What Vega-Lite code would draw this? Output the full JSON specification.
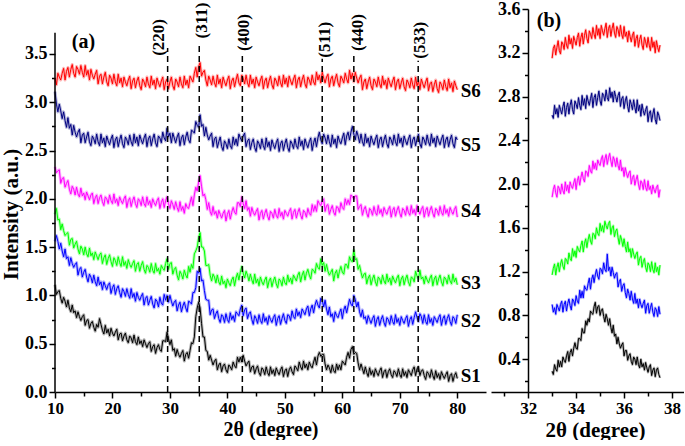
{
"$schema": "https://vega.github.io/schema/vega-lite/v6.json",
"padding": {"left": 0, "top": 0, "right": 0, "bottom": 0},
"spacing": 5,
"bounds": "flush",
"config": {
  "view": {"stroke": null},
  "font": "Liberation Serif",
  "axis": {"domainColor": "black", "domainWidth": 1.5, "tickColor": "black", "tickWidth": 1.5, "labelColor": "black", "titleColor": "black", "labelFont": "Liberation Serif", "titleFont": "Liberation Serif", "labelFontWeight": "bold", "titleFontWeight": "bold", "grid": false, "labelFlush": false, "labelOverlap": false, "labelBound": false}
},
"datasets": {
"xrd": [
{"x":10,"S1":1.11,"S2":1.56,"S3":1.84,"S4":2.33,"S5":3.11,"S6":3.25},
{"x":10.25,"S1":1.01,"S2":1.62,"S3":1.90,"S4":2.27,"S5":2.98,"S6":3.18},
{"x":10.5,"S1":1.04,"S2":1.56,"S3":1.78,"S4":2.29,"S5":2.90,"S6":3.30},
{"x":10.75,"S1":1.05,"S2":1.48,"S3":1.79,"S4":2.30,"S5":2.98,"S6":3.26},
{"x":11,"S1":0.97,"S2":1.54,"S3":1.68,"S4":2.16,"S5":2.91,"S6":3.23},
{"x":11.25,"S1":0.92,"S2":1.46,"S3":1.74,"S4":2.21,"S5":2.83,"S6":3.30},
{"x":11.5,"S1":0.98,"S2":1.40,"S3":1.67,"S4":2.22,"S5":2.90,"S6":3.35},
{"x":11.75,"S1":0.94,"S2":1.48,"S3":1.62,"S4":2.12,"S5":2.81,"S6":3.23},
{"x":12,"S1":0.88,"S2":1.38,"S3":1.64,"S4":2.16,"S5":2.74,"S6":3.32},
{"x":12.25,"S1":0.95,"S2":1.40,"S3":1.65,"S4":2.19,"S5":2.84,"S6":3.36},
{"x":12.5,"S1":0.87,"S2":1.31,"S3":1.52,"S4":2.10,"S5":2.73,"S6":3.26},
{"x":12.75,"S1":0.83,"S2":1.39,"S3":1.58,"S4":2.05,"S5":2.77,"S6":3.34},
{"x":13,"S1":0.90,"S2":1.33,"S3":1.59,"S4":2.13,"S5":2.66,"S6":3.39},
{"x":13.25,"S1":0.82,"S2":1.29,"S3":1.49,"S4":2.10,"S5":2.76,"S6":3.30},
{"x":13.5,"S1":0.84,"S2":1.32,"S3":1.53,"S4":2.04,"S5":2.69,"S6":3.26},
{"x":13.75,"S1":0.77,"S2":1.34,"S3":1.56,"S4":2.12,"S5":2.64,"S6":3.37},
{"x":14,"S1":0.83,"S2":1.21,"S3":1.48,"S4":2.05,"S5":2.69,"S6":3.34},
{"x":14.25,"S1":0.78,"S2":1.27,"S3":1.43,"S4":2.02,"S5":2.72,"S6":3.29},
{"x":14.5,"S1":0.74,"S2":1.29,"S3":1.51,"S4":2.11,"S5":2.58,"S6":3.38},
{"x":14.75,"S1":0.78,"S2":1.19,"S3":1.48,"S4":2.03,"S5":2.66,"S6":3.31},
{"x":15,"S1":0.80,"S2":1.24,"S3":1.42,"S4":2.06,"S5":2.68,"S6":3.26},
{"x":15.25,"S1":0.69,"S2":1.27,"S3":1.50,"S4":1.99,"S5":2.58,"S6":3.38},
{"x":15.5,"S1":0.74,"S2":1.19,"S3":1.43,"S4":2.07,"S5":2.64,"S6":3.28},
{"x":15.75,"S1":0.75,"S2":1.14,"S3":1.40,"S4":2.03,"S5":2.69,"S6":3.33},
{"x":16,"S1":0.66,"S2":1.22,"S3":1.49,"S4":1.99,"S5":2.59,"S6":3.23},
{"x":16.25,"S1":0.71,"S2":1.19,"S3":1.41,"S4":2.04,"S5":2.55,"S6":3.34},
{"x":16.5,"S1":0.73,"S2":1.13,"S3":1.44,"S4":2.06,"S5":2.65,"S6":3.28},
{"x":16.75,"S1":0.67,"S2":1.21,"S3":1.37,"S4":1.95,"S5":2.62,"S6":3.24},
{"x":17,"S1":0.63,"S2":1.14,"S3":1.45,"S4":2.01,"S5":2.57,"S6":3.29},
{"x":17.25,"S1":0.70,"S2":1.10,"S3":1.41,"S4":2.04,"S5":2.67,"S6":3.33},
{"x":17.5,"S1":0.67,"S2":1.19,"S3":1.37,"S4":1.95,"S5":2.59,"S6":3.19},
{"x":17.75,"S1":0.76,"S2":1.11,"S3":1.42,"S4":2.01,"S5":2.55,"S6":3.27},
{"x":18,"S1":0.70,"S2":1.14,"S3":1.44,"S4":2.04,"S5":2.67,"S6":3.29},
{"x":18.25,"S1":0.64,"S2":1.06,"S3":1.33,"S4":1.97,"S5":2.58,"S6":3.19},
{"x":18.5,"S1":0.60,"S2":1.14,"S3":1.39,"S4":1.93,"S5":2.63,"S6":3.26},
{"x":18.75,"S1":0.69,"S2":1.10,"S3":1.42,"S4":2.02,"S5":2.54,"S6":3.31},
{"x":19,"S1":0.61,"S2":1.06,"S3":1.32,"S4":2.00,"S5":2.65,"S6":3.21},
{"x":19.25,"S1":0.65,"S2":1.11,"S3":1.38,"S4":1.95,"S5":2.60,"S6":3.17},
{"x":19.5,"S1":0.58,"S2":1.13,"S3":1.42,"S4":2.04,"S5":2.56,"S6":3.28},
{"x":19.75,"S1":0.66,"S2":1.02,"S3":1.35,"S4":1.98,"S5":2.62,"S6":3.25},
{"x":20,"S1":0.61,"S2":1.08,"S3":1.30,"S4":1.95,"S5":2.66,"S6":3.19},
{"x":20.25,"S1":0.58,"S2":1.11,"S3":1.39,"S4":2.05,"S5":2.53,"S6":3.29},
{"x":20.5,"S1":0.62,"S2":1.01,"S3":1.36,"S4":1.96,"S5":2.61,"S6":3.21},
{"x":20.75,"S1":0.65,"S2":1.07,"S3":1.31,"S4":2.00,"S5":2.64,"S6":3.17},
{"x":21,"S1":0.54,"S2":1.10,"S3":1.40,"S4":1.93,"S5":2.54,"S6":3.29},
{"x":21.25,"S1":0.60,"S2":1.03,"S3":1.34,"S4":2.02,"S5":2.61,"S6":3.20},
{"x":21.5,"S1":0.61,"S2":0.98,"S3":1.30,"S4":1.98,"S5":2.66,"S6":3.25},
{"x":21.75,"S1":0.53,"S2":1.07,"S3":1.40,"S4":1.95,"S5":2.57,"S6":3.16},
{"x":22,"S1":0.58,"S2":1.04,"S3":1.31,"S4":2.00,"S5":2.53,"S6":3.26},
{"x":22.25,"S1":0.61,"S2":0.99,"S3":1.35,"S4":2.03,"S5":2.64,"S6":3.21},
{"x":22.5,"S1":0.54,"S2":1.07,"S3":1.28,"S4":1.91,"S5":2.61,"S6":3.17},
{"x":22.75,"S1":0.51,"S2":1.01,"S3":1.37,"S4":1.98,"S5":2.56,"S6":3.23},
{"x":23,"S1":0.58,"S2":0.97,"S3":1.32,"S4":2.01,"S5":2.66,"S6":3.27},
{"x":23.25,"S1":0.56,"S2":1.07,"S3":1.29,"S4":1.92,"S5":2.59,"S6":3.14},
{"x":23.5,"S1":0.51,"S2":0.98,"S3":1.33,"S4":1.98,"S5":2.55,"S6":3.22},
{"x":23.75,"S1":0.59,"S2":1.02,"S3":1.36,"S4":2.02,"S5":2.67,"S6":3.25},
{"x":24,"S1":0.52,"S2":0.94,"S3":1.25,"S4":1.95,"S5":2.58,"S6":3.15},
{"x":24.25,"S1":0.49,"S2":1.03,"S3":1.32,"S4":1.91,"S5":2.64,"S6":3.22},
{"x":24.5,"S1":0.57,"S2":0.98,"S3":1.34,"S4":2.00,"S5":2.55,"S6":3.26},
{"x":24.75,"S1":0.50,"S2":0.95,"S3":1.25,"S4":1.98,"S5":2.66,"S6":3.17},
{"x":25,"S1":0.53,"S2":0.99,"S3":1.31,"S4":1.93,"S5":2.61,"S6":3.13},
{"x":25.25,"S1":0.47,"S2":1.02,"S3":1.35,"S4":2.02,"S5":2.57,"S6":3.24},
{"x":25.5,"S1":0.54,"S2":0.90,"S3":1.27,"S4":1.95,"S5":2.63,"S6":3.21},
{"x":25.75,"S1":0.50,"S2":0.97,"S3":1.23,"S4":1.92,"S5":2.67,"S6":3.16},
{"x":26,"S1":0.46,"S2":0.99,"S3":1.31,"S4":2.02,"S5":2.54,"S6":3.26},
{"x":26.25,"S1":0.50,"S2":0.90,"S3":1.29,"S4":1.94,"S5":2.62,"S6":3.19},
{"x":26.5,"S1":0.52,"S2":0.95,"S3":1.24,"S4":1.98,"S5":2.65,"S6":3.15},
{"x":26.75,"S1":0.42,"S2":0.99,"S3":1.33,"S4":1.91,"S5":2.55,"S6":3.27},
{"x":27,"S1":0.47,"S2":0.91,"S3":1.26,"S4":2.00,"S5":2.62,"S6":3.18},
{"x":27.25,"S1":0.49,"S2":0.87,"S3":1.23,"S4":1.96,"S5":2.67,"S6":3.23},
{"x":27.5,"S1":0.40,"S2":0.96,"S3":1.33,"S4":1.93,"S5":2.58,"S6":3.14},
{"x":27.75,"S1":0.46,"S2":0.94,"S3":1.25,"S4":1.98,"S5":2.54,"S6":3.25},
{"x":28,"S1":0.49,"S2":0.88,"S3":1.28,"S4":2.01,"S5":2.65,"S6":3.20},
{"x":28.25,"S1":0.44,"S2":0.98,"S3":1.22,"S4":1.90,"S5":2.63,"S6":3.16},
{"x":28.5,"S1":0.42,"S2":0.92,"S3":1.31,"S4":1.96,"S5":2.58,"S6":3.22},
{"x":28.75,"S1":0.53,"S2":0.90,"S3":1.28,"S4":2.00,"S5":2.69,"S6":3.26},
{"x":29,"S1":0.53,"S2":1.01,"S3":1.26,"S4":1.91,"S5":2.63,"S6":3.13},
{"x":29.25,"S1":0.52,"S2":0.95,"S3":1.33,"S4":1.98,"S5":2.60,"S6":3.21},
{"x":29.5,"S1":0.62,"S2":1.00,"S3":1.38,"S4":2.02,"S5":2.73,"S6":3.24},
{"x":29.75,"S1":0.55,"S2":0.93,"S3":1.27,"S4":1.95,"S5":2.64,"S6":3.14},
{"x":30,"S1":0.49,"S2":1.00,"S3":1.33,"S4":1.90,"S5":2.68,"S6":3.21},
{"x":30.25,"S1":0.54,"S2":0.94,"S3":1.34,"S4":1.98,"S5":2.58,"S6":3.26},
{"x":30.5,"S1":0.43,"S2":0.89,"S3":1.22,"S4":1.94,"S5":2.68,"S6":3.17},
{"x":30.75,"S1":0.45,"S2":0.93,"S3":1.27,"S4":1.89,"S5":2.63,"S6":3.13},
{"x":31,"S1":0.37,"S2":0.95,"S3":1.29,"S4":1.97,"S5":2.58,"S6":3.24},
{"x":31.25,"S1":0.44,"S2":0.84,"S3":1.21,"S4":1.91,"S5":2.64,"S6":3.21},
{"x":31.5,"S1":0.39,"S2":0.90,"S3":1.16,"S4":1.87,"S5":2.68,"S6":3.16},
{"x":31.75,"S1":0.36,"S2":0.93,"S3":1.25,"S4":1.97,"S5":2.55,"S6":3.26},
{"x":32,"S1":0.40,"S2":0.83,"S3":1.22,"S4":1.88,"S5":2.63,"S6":3.19},
{"x":32.25,"S1":0.43,"S2":0.89,"S3":1.17,"S4":1.92,"S5":2.66,"S6":3.15},
{"x":32.5,"S1":0.32,"S2":0.93,"S3":1.26,"S4":1.85,"S5":2.56,"S6":3.27},
{"x":32.75,"S1":0.39,"S2":0.87,"S3":1.21,"S4":1.95,"S5":2.64,"S6":3.18},
{"x":33,"S1":0.41,"S2":0.83,"S3":1.18,"S4":1.91,"S5":2.69,"S6":3.23},
{"x":33.25,"S1":0.35,"S2":0.94,"S3":1.30,"S4":1.90,"S5":2.61,"S6":3.15},
{"x":33.5,"S1":0.43,"S2":0.93,"S3":1.24,"S4":1.96,"S5":2.58,"S6":3.27},
{"x":33.75,"S1":0.51,"S2":0.91,"S3":1.32,"S4":2.02,"S5":2.71,"S6":3.24},
{"x":34,"S1":0.50,"S2":1.03,"S3":1.28,"S4":1.93,"S5":2.70,"S6":3.21},
{"x":34.25,"S1":0.57,"S2":1.03,"S3":1.43,"S4":2.04,"S5":2.68,"S6":3.30},
{"x":34.5,"S1":0.78,"S2":1.08,"S3":1.46,"S4":2.12,"S5":2.80,"S6":3.36},
{"x":34.75,"S1":0.87,"S2":1.25,"S3":1.50,"S4":2.08,"S5":2.76,"S6":3.26},
{"x":35,"S1":0.93,"S2":1.23,"S3":1.60,"S4":2.18,"S5":2.74,"S6":3.37},
{"x":35.25,"S1":0.87,"S2":1.28,"S3":1.65,"S4":2.24,"S5":2.87,"S6":3.41},
{"x":35.5,"S1":0.71,"S2":1.15,"S3":1.50,"S4":2.13,"S5":2.75,"S6":3.27},
{"x":35.75,"S1":0.57,"S2":1.16,"S3":1.50,"S4":2.03,"S5":2.77,"S6":3.31},
{"x":36,"S1":0.57,"S2":1.05,"S3":1.46,"S4":2.05,"S5":2.65,"S6":3.33},
{"x":36.25,"S1":0.43,"S2":0.96,"S3":1.31,"S4":1.99,"S5":2.74,"S6":3.23},
{"x":36.5,"S1":0.42,"S2":0.95,"S3":1.31,"S4":1.89,"S5":2.66,"S6":3.17},
{"x":36.75,"S1":0.33,"S2":0.95,"S3":1.32,"S4":1.96,"S5":2.61,"S6":3.27},
{"x":37,"S1":0.38,"S2":0.80,"S3":1.21,"S4":1.87,"S5":2.65,"S6":3.23},
{"x":37.25,"S1":0.33,"S2":0.85,"S3":1.15,"S4":1.83,"S5":2.68,"S6":3.18},
{"x":37.5,"S1":0.28,"S2":0.86,"S3":1.22,"S4":1.92,"S5":2.54,"S6":3.27},
{"x":37.75,"S1":0.32,"S2":0.76,"S3":1.19,"S4":1.84,"S5":2.62,"S6":3.20},
{"x":38,"S1":0.34,"S2":0.81,"S3":1.13,"S4":1.87,"S5":2.64,"S6":3.16},
{"x":38.25,"S1":0.23,"S2":0.84,"S3":1.21,"S4":1.80,"S5":2.53,"S6":3.28},
{"x":38.5,"S1":0.28,"S2":0.76,"S3":1.14,"S4":1.88,"S5":2.59,"S6":3.19},
{"x":38.75,"S1":0.30,"S2":0.72,"S3":1.11,"S4":1.84,"S5":2.64,"S6":3.24},
{"x":39,"S1":0.21,"S2":0.80,"S3":1.20,"S4":1.80,"S5":2.54,"S6":3.15},
{"x":39.25,"S1":0.27,"S2":0.78,"S3":1.12,"S4":1.85,"S5":2.50,"S6":3.26},
{"x":39.5,"S1":0.29,"S2":0.72,"S3":1.15,"S4":1.88,"S5":2.60,"S6":3.21},
{"x":39.75,"S1":0.23,"S2":0.81,"S3":1.08,"S4":1.77,"S5":2.57,"S6":3.17},
{"x":40,"S1":0.20,"S2":0.75,"S3":1.17,"S4":1.84,"S5":2.52,"S6":3.23},
{"x":40.25,"S1":0.28,"S2":0.72,"S3":1.13,"S4":1.88,"S5":2.62,"S6":3.27},
{"x":40.5,"S1":0.26,"S2":0.82,"S3":1.10,"S4":1.79,"S5":2.55,"S6":3.14},
{"x":40.75,"S1":0.23,"S2":0.75,"S3":1.16,"S4":1.86,"S5":2.52,"S6":3.22},
{"x":41,"S1":0.31,"S2":0.79,"S3":1.19,"S4":1.91,"S5":2.64,"S6":3.25},
{"x":41.25,"S1":0.27,"S2":0.73,"S3":1.10,"S4":1.86,"S5":2.56,"S6":3.16},
{"x":41.5,"S1":0.25,"S2":0.83,"S3":1.18,"S4":1.84,"S5":2.62,"S6":3.23},
{"x":41.75,"S1":0.36,"S2":0.81,"S3":1.23,"S4":1.96,"S5":2.55,"S6":3.29},
{"x":42,"S1":0.31,"S2":0.79,"S3":1.16,"S4":1.96,"S5":2.67,"S6":3.20},
{"x":42.25,"S1":0.36,"S2":0.86,"S3":1.24,"S4":1.92,"S5":2.63,"S6":3.17},
{"x":42.5,"S1":0.31,"S2":0.90,"S3":1.30,"S4":2.02,"S5":2.60,"S6":3.28},
{"x":42.75,"S1":0.38,"S2":0.79,"S3":1.23,"S4":1.95,"S5":2.65,"S6":3.25},
{"x":43,"S1":0.32,"S2":0.85,"S3":1.18,"S4":1.90,"S5":2.68,"S6":3.19},
{"x":43.25,"S1":0.27,"S2":0.87,"S3":1.25,"S4":1.98,"S5":2.54,"S6":3.28},
{"x":43.5,"S1":0.30,"S2":0.76,"S3":1.21,"S4":1.88,"S5":2.60,"S6":3.20},
{"x":43.75,"S1":0.32,"S2":0.81,"S3":1.15,"S4":1.91,"S5":2.62,"S6":3.16},
{"x":44,"S1":0.21,"S2":0.83,"S3":1.22,"S4":1.82,"S5":2.51,"S6":3.28},
{"x":44.25,"S1":0.26,"S2":0.75,"S3":1.16,"S4":1.91,"S5":2.58,"S6":3.19},
{"x":44.5,"S1":0.27,"S2":0.70,"S3":1.12,"S4":1.86,"S5":2.62,"S6":3.24},
{"x":44.75,"S1":0.19,"S2":0.79,"S3":1.22,"S4":1.83,"S5":2.53,"S6":3.15},
{"x":45,"S1":0.24,"S2":0.76,"S3":1.13,"S4":1.87,"S5":2.49,"S6":3.26},
{"x":45.25,"S1":0.27,"S2":0.71,"S3":1.17,"S4":1.90,"S5":2.60,"S6":3.21},
{"x":45.5,"S1":0.20,"S2":0.80,"S3":1.10,"S4":1.78,"S5":2.57,"S6":3.17},
{"x":45.75,"S1":0.17,"S2":0.74,"S3":1.19,"S4":1.85,"S5":2.52,"S6":3.23},
{"x":46,"S1":0.25,"S2":0.71,"S3":1.14,"S4":1.88,"S5":2.62,"S6":3.27},
{"x":46.25,"S1":0.23,"S2":0.81,"S3":1.11,"S4":1.79,"S5":2.55,"S6":3.14},
{"x":46.5,"S1":0.18,"S2":0.73,"S3":1.16,"S4":1.85,"S5":2.51,"S6":3.22},
{"x":46.75,"S1":0.26,"S2":0.77,"S3":1.19,"S4":1.89,"S5":2.63,"S6":3.25},
{"x":47,"S1":0.20,"S2":0.70,"S3":1.08,"S4":1.82,"S5":2.54,"S6":3.15},
{"x":47.25,"S1":0.17,"S2":0.79,"S3":1.15,"S4":1.78,"S5":2.59,"S6":3.22},
{"x":47.5,"S1":0.26,"S2":0.75,"S3":1.18,"S4":1.87,"S5":2.50,"S6":3.27},
{"x":47.75,"S1":0.19,"S2":0.72,"S3":1.09,"S4":1.85,"S5":2.61,"S6":3.18},
{"x":48,"S1":0.23,"S2":0.77,"S3":1.15,"S4":1.80,"S5":2.56,"S6":3.14},
{"x":48.25,"S1":0.17,"S2":0.80,"S3":1.19,"S4":1.89,"S5":2.52,"S6":3.25},
{"x":48.5,"S1":0.25,"S2":0.69,"S3":1.12,"S4":1.83,"S5":2.58,"S6":3.22},
{"x":48.75,"S1":0.21,"S2":0.76,"S3":1.08,"S4":1.80,"S5":2.62,"S6":3.17},
{"x":49,"S1":0.18,"S2":0.79,"S3":1.17,"S4":1.90,"S5":2.49,"S6":3.27},
{"x":49.25,"S1":0.23,"S2":0.70,"S3":1.15,"S4":1.82,"S5":2.57,"S6":3.20},
{"x":49.5,"S1":0.26,"S2":0.76,"S3":1.10,"S4":1.86,"S5":2.60,"S6":3.16},
{"x":49.75,"S1":0.16,"S2":0.81,"S3":1.19,"S4":1.79,"S5":2.50,"S6":3.28},
{"x":50,"S1":0.22,"S2":0.74,"S3":1.13,"S4":1.88,"S5":2.57,"S6":3.19},
{"x":50.25,"S1":0.24,"S2":0.71,"S3":1.11,"S4":1.85,"S5":2.62,"S6":3.25},
{"x":50.5,"S1":0.16,"S2":0.80,"S3":1.21,"S4":1.82,"S5":2.53,"S6":3.16},
{"x":50.75,"S1":0.23,"S2":0.79,"S3":1.14,"S4":1.87,"S5":2.49,"S6":3.27},
{"x":51,"S1":0.26,"S2":0.74,"S3":1.18,"S4":1.90,"S5":2.60,"S6":3.22},
{"x":51.25,"S1":0.21,"S2":0.84,"S3":1.12,"S4":1.79,"S5":2.57,"S6":3.18},
{"x":51.5,"S1":0.18,"S2":0.78,"S3":1.21,"S4":1.86,"S5":2.52,"S6":3.24},
{"x":51.75,"S1":0.27,"S2":0.76,"S3":1.18,"S4":1.89,"S5":2.62,"S6":3.28},
{"x":52,"S1":0.25,"S2":0.86,"S3":1.15,"S4":1.80,"S5":2.55,"S6":3.15},
{"x":52.25,"S1":0.22,"S2":0.79,"S3":1.21,"S4":1.86,"S5":2.52,"S6":3.23},
{"x":52.5,"S1":0.31,"S2":0.83,"S3":1.24,"S4":1.90,"S5":2.64,"S6":3.26},
{"x":52.75,"S1":0.26,"S2":0.77,"S3":1.14,"S4":1.83,"S5":2.55,"S6":3.16},
{"x":53,"S1":0.23,"S2":0.86,"S3":1.21,"S4":1.79,"S5":2.60,"S6":3.23},
{"x":53.25,"S1":0.32,"S2":0.83,"S3":1.25,"S4":1.88,"S5":2.51,"S6":3.28},
{"x":53.5,"S1":0.25,"S2":0.80,"S3":1.16,"S4":1.86,"S5":2.62,"S6":3.19},
{"x":53.75,"S1":0.29,"S2":0.86,"S3":1.23,"S4":1.81,"S5":2.57,"S6":3.15},
{"x":54,"S1":0.23,"S2":0.89,"S3":1.27,"S4":1.90,"S5":2.53,"S6":3.26},
{"x":54.25,"S1":0.31,"S2":0.79,"S3":1.21,"S4":1.85,"S5":2.59,"S6":3.23},
{"x":54.5,"S1":0.27,"S2":0.86,"S3":1.17,"S4":1.83,"S5":2.63,"S6":3.18},
{"x":54.75,"S1":0.25,"S2":0.90,"S3":1.27,"S4":1.94,"S5":2.50,"S6":3.28},
{"x":55,"S1":0.31,"S2":0.82,"S3":1.26,"S4":1.87,"S5":2.58,"S6":3.21},
{"x":55.25,"S1":0.36,"S2":0.90,"S3":1.23,"S4":1.93,"S5":2.63,"S6":3.18},
{"x":55.5,"S1":0.28,"S2":0.95,"S3":1.33,"S4":1.87,"S5":2.54,"S6":3.31},
{"x":55.75,"S1":0.37,"S2":0.90,"S3":1.29,"S4":1.98,"S5":2.63,"S6":3.23},
{"x":56,"S1":0.41,"S2":0.87,"S3":1.27,"S4":1.95,"S5":2.69,"S6":3.28},
{"x":56.25,"S1":0.37,"S2":0.97,"S3":1.38,"S4":1.93,"S5":2.61,"S6":3.20},
{"x":56.5,"S1":0.39,"S2":0.95,"S3":1.31,"S4":1.98,"S5":2.57,"S6":3.31},
{"x":56.75,"S1":0.39,"S2":0.88,"S3":1.34,"S4":2.00,"S5":2.67,"S6":3.25},
{"x":57,"S1":0.29,"S2":0.95,"S3":1.25,"S4":1.87,"S5":2.63,"S6":3.20},
{"x":57.25,"S1":0.23,"S2":0.86,"S3":1.32,"S4":1.93,"S5":2.57,"S6":3.26},
{"x":57.5,"S1":0.28,"S2":0.80,"S3":1.25,"S4":1.94,"S5":2.66,"S6":3.29},
{"x":57.75,"S1":0.25,"S2":0.88,"S3":1.21,"S4":1.84,"S5":2.59,"S6":3.16},
{"x":58,"S1":0.20,"S2":0.78,"S3":1.24,"S4":1.89,"S5":2.54,"S6":3.24},
{"x":58.25,"S1":0.28,"S2":0.81,"S3":1.27,"S4":1.93,"S5":2.66,"S6":3.27},
{"x":58.5,"S1":0.22,"S2":0.73,"S3":1.15,"S4":1.86,"S5":2.57,"S6":3.17},
{"x":58.75,"S1":0.20,"S2":0.83,"S3":1.23,"S4":1.83,"S5":2.62,"S6":3.24},
{"x":59,"S1":0.29,"S2":0.79,"S3":1.26,"S4":1.92,"S5":2.53,"S6":3.29},
{"x":59.25,"S1":0.23,"S2":0.77,"S3":1.18,"S4":1.91,"S5":2.65,"S6":3.20},
{"x":59.5,"S1":0.28,"S2":0.82,"S3":1.25,"S4":1.86,"S5":2.60,"S6":3.16},
{"x":59.75,"S1":0.23,"S2":0.86,"S3":1.30,"S4":1.96,"S5":2.57,"S6":3.27},
{"x":60,"S1":0.32,"S2":0.76,"S3":1.24,"S4":1.91,"S5":2.63,"S6":3.24},
{"x":60.25,"S1":0.30,"S2":0.85,"S3":1.22,"S4":1.89,"S5":2.68,"S6":3.20},
{"x":60.5,"S1":0.28,"S2":0.89,"S3":1.32,"S4":2.00,"S5":2.56,"S6":3.30},
{"x":60.75,"S1":0.36,"S2":0.82,"S3":1.32,"S4":1.94,"S5":2.65,"S6":3.24},
{"x":61,"S1":0.41,"S2":0.89,"S3":1.28,"S4":1.99,"S5":2.69,"S6":3.20},
{"x":61.25,"S1":0.35,"S2":0.96,"S3":1.40,"S4":1.94,"S5":2.61,"S6":3.33},
{"x":61.5,"S1":0.44,"S2":0.91,"S3":1.36,"S4":2.04,"S5":2.69,"S6":3.24},
{"x":61.75,"S1":0.47,"S2":0.89,"S3":1.35,"S4":2.02,"S5":2.75,"S6":3.30},
{"x":62,"S1":0.39,"S2":1.00,"S3":1.47,"S4":2.00,"S5":2.67,"S6":3.21},
{"x":62.25,"S1":0.41,"S2":0.96,"S3":1.37,"S4":2.03,"S5":2.61,"S6":3.31},
{"x":62.5,"S1":0.40,"S2":0.88,"S3":1.38,"S4":2.03,"S5":2.70,"S6":3.25},
{"x":62.75,"S1":0.30,"S2":0.93,"S3":1.27,"S4":1.89,"S5":2.65,"S6":3.20},
{"x":63,"S1":0.23,"S2":0.83,"S3":1.31,"S4":1.92,"S5":2.58,"S6":3.25},
{"x":63.25,"S1":0.29,"S2":0.78,"S3":1.24,"S4":1.94,"S5":2.67,"S6":3.28},
{"x":63.5,"S1":0.24,"S2":0.85,"S3":1.18,"S4":1.83,"S5":2.59,"S6":3.13},
{"x":63.75,"S1":0.19,"S2":0.76,"S3":1.22,"S4":1.89,"S5":2.55,"S6":3.21},
{"x":64,"S1":0.26,"S2":0.78,"S3":1.23,"S4":1.92,"S5":2.67,"S6":3.24},
{"x":64.25,"S1":0.20,"S2":0.71,"S3":1.12,"S4":1.85,"S5":2.58,"S6":3.14},
{"x":64.5,"S1":0.16,"S2":0.79,"S3":1.18,"S4":1.81,"S5":2.63,"S6":3.21},
{"x":64.75,"S1":0.25,"S2":0.75,"S3":1.21,"S4":1.90,"S5":2.54,"S6":3.26},
{"x":65,"S1":0.18,"S2":0.71,"S3":1.11,"S4":1.88,"S5":2.65,"S6":3.17},
{"x":65.25,"S1":0.22,"S2":0.76,"S3":1.17,"S4":1.83,"S5":2.60,"S6":3.13},
{"x":65.5,"S1":0.16,"S2":0.79,"S3":1.21,"S4":1.92,"S5":2.56,"S6":3.24},
{"x":65.75,"S1":0.24,"S2":0.68,"S3":1.14,"S4":1.86,"S5":2.62,"S6":3.21},
{"x":66,"S1":0.20,"S2":0.75,"S3":1.10,"S4":1.83,"S5":2.66,"S6":3.16},
{"x":66.25,"S1":0.17,"S2":0.78,"S3":1.19,"S4":1.93,"S5":2.53,"S6":3.26},
{"x":66.5,"S1":0.22,"S2":0.69,"S3":1.17,"S4":1.85,"S5":2.61,"S6":3.19},
{"x":66.75,"S1":0.25,"S2":0.75,"S3":1.12,"S4":1.89,"S5":2.64,"S6":3.15},
{"x":67,"S1":0.15,"S2":0.79,"S3":1.21,"S4":1.82,"S5":2.54,"S6":3.27},
{"x":67.25,"S1":0.21,"S2":0.72,"S3":1.15,"S4":1.91,"S5":2.61,"S6":3.18},
{"x":67.5,"S1":0.23,"S2":0.68,"S3":1.12,"S4":1.87,"S5":2.66,"S6":3.23},
{"x":67.75,"S1":0.15,"S2":0.77,"S3":1.22,"S4":1.84,"S5":2.57,"S6":3.14},
{"x":68,"S1":0.21,"S2":0.75,"S3":1.14,"S4":1.89,"S5":2.53,"S6":3.25},
{"x":68.25,"S1":0.24,"S2":0.70,"S3":1.18,"S4":1.92,"S5":2.64,"S6":3.20},
{"x":68.5,"S1":0.18,"S2":0.79,"S3":1.11,"S4":1.81,"S5":2.61,"S6":3.16},
{"x":68.75,"S1":0.15,"S2":0.73,"S3":1.20,"S4":1.88,"S5":2.56,"S6":3.22},
{"x":69,"S1":0.22,"S2":0.70,"S3":1.16,"S4":1.91,"S5":2.66,"S6":3.26},
{"x":69.25,"S1":0.20,"S2":0.80,"S3":1.13,"S4":1.82,"S5":2.59,"S6":3.13},
{"x":69.5,"S1":0.16,"S2":0.72,"S3":1.18,"S4":1.88,"S5":2.55,"S6":3.21},
{"x":69.75,"S1":0.24,"S2":0.76,"S3":1.21,"S4":1.92,"S5":2.67,"S6":3.24},
{"x":70,"S1":0.18,"S2":0.69,"S3":1.10,"S4":1.85,"S5":2.58,"S6":3.14},
{"x":70.25,"S1":0.15,"S2":0.78,"S3":1.17,"S4":1.81,"S5":2.63,"S6":3.20},
{"x":70.5,"S1":0.24,"S2":0.74,"S3":1.20,"S4":1.90,"S5":2.54,"S6":3.25},
{"x":70.75,"S1":0.17,"S2":0.71,"S3":1.11,"S4":1.88,"S5":2.65,"S6":3.16},
{"x":71,"S1":0.21,"S2":0.76,"S3":1.17,"S4":1.83,"S5":2.60,"S6":3.12},
{"x":71.25,"S1":0.15,"S2":0.79,"S3":1.21,"S4":1.92,"S5":2.56,"S6":3.23},
{"x":71.5,"S1":0.23,"S2":0.68,"S3":1.14,"S4":1.86,"S5":2.62,"S6":3.20},
{"x":71.75,"S1":0.20,"S2":0.75,"S3":1.10,"S4":1.83,"S5":2.66,"S6":3.15},
{"x":72,"S1":0.17,"S2":0.78,"S3":1.19,"S4":1.93,"S5":2.53,"S6":3.25},
{"x":72.25,"S1":0.23,"S2":0.70,"S3":1.18,"S4":1.85,"S5":2.61,"S6":3.18},
{"x":72.5,"S1":0.26,"S2":0.77,"S3":1.14,"S4":1.89,"S5":2.64,"S6":3.14},
{"x":72.75,"S1":0.17,"S2":0.83,"S3":1.25,"S4":1.83,"S5":2.55,"S6":3.26},
{"x":73,"S1":0.24,"S2":0.77,"S3":1.20,"S4":1.93,"S5":2.62,"S6":3.17},
{"x":73.25,"S1":0.26,"S2":0.73,"S3":1.17,"S4":1.88,"S5":2.67,"S6":3.22},
{"x":73.5,"S1":0.17,"S2":0.81,"S3":1.26,"S4":1.84,"S5":2.57,"S6":3.13},
{"x":73.75,"S1":0.22,"S2":0.78,"S3":1.17,"S4":1.89,"S5":2.53,"S6":3.24},
{"x":74,"S1":0.23,"S2":0.71,"S3":1.19,"S4":1.92,"S5":2.64,"S6":3.19},
{"x":74.25,"S1":0.17,"S2":0.80,"S3":1.12,"S4":1.81,"S5":2.61,"S6":3.15},
{"x":74.5,"S1":0.13,"S2":0.73,"S3":1.20,"S4":1.88,"S5":2.56,"S6":3.21},
{"x":74.75,"S1":0.21,"S2":0.70,"S3":1.16,"S4":1.91,"S5":2.66,"S6":3.25},
{"x":75,"S1":0.19,"S2":0.80,"S3":1.13,"S4":1.82,"S5":2.59,"S6":3.12},
{"x":75.25,"S1":0.15,"S2":0.72,"S3":1.18,"S4":1.88,"S5":2.55,"S6":3.19},
{"x":75.5,"S1":0.23,"S2":0.76,"S3":1.21,"S4":1.92,"S5":2.67,"S6":3.21},
{"x":75.75,"S1":0.17,"S2":0.69,"S3":1.10,"S4":1.85,"S5":2.58,"S6":3.11},
{"x":76,"S1":0.13,"S2":0.78,"S3":1.17,"S4":1.81,"S5":2.63,"S6":3.18},
{"x":76.25,"S1":0.22,"S2":0.75,"S3":1.20,"S4":1.90,"S5":2.54,"S6":3.23},
{"x":76.5,"S1":0.15,"S2":0.72,"S3":1.11,"S4":1.88,"S5":2.65,"S6":3.14},
{"x":76.75,"S1":0.19,"S2":0.77,"S3":1.17,"S4":1.83,"S5":2.60,"S6":3.10},
{"x":77,"S1":0.13,"S2":0.80,"S3":1.21,"S4":1.92,"S5":2.56,"S6":3.21},
{"x":77.25,"S1":0.21,"S2":0.69,"S3":1.14,"S4":1.86,"S5":2.62,"S6":3.18},
{"x":77.5,"S1":0.17,"S2":0.76,"S3":1.10,"S4":1.83,"S5":2.66,"S6":3.13},
{"x":77.75,"S1":0.14,"S2":0.79,"S3":1.19,"S4":1.93,"S5":2.53,"S6":3.23},
{"x":78,"S1":0.18,"S2":0.70,"S3":1.17,"S4":1.85,"S5":2.61,"S6":3.16},
{"x":78.25,"S1":0.21,"S2":0.76,"S3":1.12,"S4":1.89,"S5":2.64,"S6":3.12},
{"x":78.5,"S1":0.11,"S2":0.80,"S3":1.21,"S4":1.82,"S5":2.54,"S6":3.24},
{"x":78.75,"S1":0.17,"S2":0.73,"S3":1.15,"S4":1.91,"S5":2.61,"S6":3.15},
{"x":79,"S1":0.19,"S2":0.69,"S3":1.12,"S4":1.87,"S5":2.66,"S6":3.20},
{"x":79.25,"S1":0.11,"S2":0.78,"S3":1.22,"S4":1.84,"S5":2.57,"S6":3.11},
{"x":79.5,"S1":0.17,"S2":0.76,"S3":1.14,"S4":1.89,"S5":2.53,"S6":3.22},
{"x":79.75,"S1":0.20,"S2":0.71,"S3":1.18,"S4":1.92,"S5":2.64,"S6":3.17},
{"x":80,"S1":0.14,"S2":0.80,"S3":1.11,"S4":1.81,"S5":2.61,"S6":3.13}
],
"zoom": [
{"x":33.00,"S1":0.29,"S2":0.90,"S3":1.17,"S4":1.88,"S5":2.63,"S6":3.15},
{"x":33.05,"S1":0.26,"S2":0.83,"S3":1.23,"S4":1.95,"S5":2.60,"S6":3.24},
{"x":33.10,"S1":0.35,"S2":0.87,"S3":1.27,"S4":1.99,"S5":2.72,"S6":3.27},
{"x":33.15,"S1":0.31,"S2":0.81,"S3":1.17,"S4":1.92,"S5":2.64,"S6":3.18},
{"x":33.20,"S1":0.29,"S2":0.90,"S3":1.24,"S4":1.88,"S5":2.69,"S6":3.25},
{"x":33.25,"S1":0.39,"S2":0.87,"S3":1.28,"S4":1.98,"S5":2.61,"S6":3.31},
{"x":33.30,"S1":0.33,"S2":0.84,"S3":1.20,"S4":1.96,"S5":2.72,"S6":3.22},
{"x":33.35,"S1":0.38,"S2":0.90,"S3":1.27,"S4":1.91,"S5":2.68,"S6":3.19},
{"x":33.40,"S1":0.33,"S2":0.93,"S3":1.31,"S4":2.00,"S5":2.64,"S6":3.30},
{"x":33.45,"S1":0.42,"S2":0.83,"S3":1.25,"S4":1.94,"S5":2.71,"S6":3.28},
{"x":33.50,"S1":0.39,"S2":0.90,"S3":1.22,"S4":1.91,"S5":2.75,"S6":3.23},
{"x":33.55,"S1":0.37,"S2":0.93,"S3":1.32,"S4":2.02,"S5":2.62,"S6":3.34},
{"x":33.60,"S1":0.43,"S2":0.84,"S3":1.31,"S4":1.94,"S5":2.70,"S6":3.27},
{"x":33.65,"S1":0.47,"S2":0.91,"S3":1.27,"S4":1.99,"S5":2.74,"S6":3.24},
{"x":33.70,"S1":0.38,"S2":0.95,"S3":1.37,"S4":1.92,"S5":2.64,"S6":3.36},
{"x":33.75,"S1":0.46,"S2":0.89,"S3":1.32,"S4":2.02,"S5":2.72,"S6":3.28},
{"x":33.80,"S1":0.49,"S2":0.85,"S3":1.30,"S4":1.98,"S5":2.77,"S6":3.33},
{"x":33.85,"S1":0.43,"S2":0.95,"S3":1.41,"S4":1.96,"S5":2.68,"S6":3.24},
{"x":33.90,"S1":0.50,"S2":0.93,"S3":1.34,"S4":2.01,"S5":2.64,"S6":3.35},
{"x":33.95,"S1":0.55,"S2":0.89,"S3":1.39,"S4":2.05,"S5":2.76,"S6":3.31},
{"x":34.00,"S1":0.50,"S2":0.98,"S3":1.33,"S4":1.95,"S5":2.73,"S6":3.27},
{"x":34.05,"S1":0.49,"S2":0.93,"S3":1.43,"S4":2.03,"S5":2.69,"S6":3.34},
{"x":34.10,"S1":0.59,"S2":0.91,"S3":1.40,"S4":2.07,"S5":2.79,"S6":3.38},
{"x":34.15,"S1":0.59,"S2":1.03,"S3":1.38,"S4":1.99,"S5":2.72,"S6":3.26},
{"x":34.20,"S1":0.57,"S2":0.96,"S3":1.44,"S4":2.06,"S5":2.68,"S6":3.34},
{"x":34.25,"S1":0.68,"S2":1.02,"S3":1.48,"S4":2.11,"S5":2.81,"S6":3.38},
{"x":34.30,"S1":0.64,"S2":0.96,"S3":1.38,"S4":2.05,"S5":2.72,"S6":3.28},
{"x":34.35,"S1":0.64,"S2":1.07,"S3":1.46,"S4":2.02,"S5":2.78,"S6":3.36},
{"x":34.40,"S1":0.75,"S2":1.04,"S3":1.50,"S4":2.12,"S5":2.69,"S6":3.41},
{"x":34.45,"S1":0.71,"S2":1.03,"S3":1.42,"S4":2.11,"S5":2.81,"S6":3.33},
{"x":34.50,"S1":0.77,"S2":1.09,"S3":1.49,"S4":2.07,"S5":2.76,"S6":3.29},
{"x":34.55,"S1":0.74,"S2":1.14,"S3":1.54,"S4":2.17,"S5":2.72,"S6":3.40},
{"x":34.60,"S1":0.84,"S2":1.04,"S3":1.48,"S4":2.12,"S5":2.78,"S6":3.37},
{"x":34.65,"S1":0.82,"S2":1.13,"S3":1.45,"S4":2.10,"S5":2.83,"S6":3.33},
{"x":34.70,"S1":0.81,"S2":1.17,"S3":1.55,"S4":2.21,"S5":2.70,"S6":3.43},
{"x":34.75,"S1":0.88,"S2":1.10,"S3":1.54,"S4":2.14,"S5":2.79,"S6":3.37},
{"x":34.80,"S1":0.92,"S2":1.17,"S3":1.50,"S4":2.19,"S5":2.82,"S6":3.33},
{"x":34.85,"S1":0.82,"S2":1.22,"S3":1.60,"S4":2.13,"S5":2.72,"S6":3.45},
{"x":34.90,"S1":0.88,"S2":1.16,"S3":1.55,"S4":2.22,"S5":2.79,"S6":3.36},
{"x":34.95,"S1":0.89,"S2":1.13,"S3":1.53,"S4":2.19,"S5":2.85,"S6":3.42},
{"x":35.00,"S1":0.80,"S2":1.23,"S3":1.64,"S4":2.17,"S5":2.76,"S6":3.33},
{"x":35.05,"S1":0.85,"S2":1.22,"S3":1.57,"S4":2.23,"S5":2.72,"S6":3.45},
{"x":35.10,"S1":0.86,"S2":1.18,"S3":1.62,"S4":2.26,"S5":2.83,"S6":3.40},
{"x":35.15,"S1":0.79,"S2":1.28,"S3":1.56,"S4":2.16,"S5":2.81,"S6":3.36},
{"x":35.20,"S1":0.74,"S2":1.22,"S3":1.66,"S4":2.23,"S5":2.76,"S6":3.42},
{"x":35.25,"S1":0.81,"S2":1.20,"S3":1.62,"S4":2.27,"S5":2.86,"S6":3.47},
{"x":35.30,"S1":0.77,"S2":1.36,"S3":1.59,"S4":2.18,"S5":2.79,"S6":3.34},
{"x":35.35,"S1":0.71,"S2":1.21,"S3":1.64,"S4":2.24,"S5":2.76,"S6":3.42},
{"x":35.40,"S1":0.77,"S2":1.24,"S3":1.66,"S4":2.28,"S5":2.88,"S6":3.45},
{"x":35.45,"S1":0.69,"S2":1.16,"S3":1.54,"S4":2.21,"S5":2.79,"S6":3.35},
{"x":35.50,"S1":0.64,"S2":1.24,"S3":1.60,"S4":2.16,"S5":2.84,"S6":3.42},
{"x":35.55,"S1":0.71,"S2":1.19,"S3":1.62,"S4":2.25,"S5":2.75,"S6":3.47},
{"x":35.60,"S1":0.61,"S2":1.14,"S3":1.52,"S4":2.22,"S5":2.85,"S6":3.38},
{"x":35.65,"S1":0.63,"S2":1.18,"S3":1.57,"S4":2.16,"S5":2.80,"S6":3.34},
{"x":35.70,"S1":0.54,"S2":1.19,"S3":1.59,"S4":2.24,"S5":2.75,"S6":3.44},
{"x":35.75,"S1":0.60,"S2":1.06,"S3":1.51,"S4":2.17,"S5":2.81,"S6":3.41},
{"x":35.80,"S1":0.54,"S2":1.11,"S3":1.45,"S4":2.13,"S5":2.84,"S6":3.35},
{"x":35.85,"S1":0.50,"S2":1.13,"S3":1.53,"S4":2.22,"S5":2.71,"S6":3.45},
{"x":35.90,"S1":0.53,"S2":1.02,"S3":1.49,"S4":2.12,"S5":2.78,"S6":3.37},
{"x":35.95,"S1":0.55,"S2":1.07,"S3":1.43,"S4":2.15,"S5":2.80,"S6":3.33},
{"x":36.00,"S1":0.43,"S2":1.09,"S3":1.50,"S4":2.07,"S5":2.69,"S6":3.44},
{"x":36.05,"S1":0.48,"S2":1.01,"S3":1.43,"S4":2.15,"S5":2.76,"S6":3.35},
{"x":36.10,"S1":0.48,"S2":0.96,"S3":1.38,"S4":2.10,"S5":2.80,"S6":3.39},
{"x":36.15,"S1":0.39,"S2":1.04,"S3":1.47,"S4":2.06,"S5":2.71,"S6":3.30},
{"x":36.20,"S1":0.43,"S2":1.00,"S3":1.38,"S4":2.10,"S5":2.66,"S6":3.40},
{"x":36.25,"S1":0.45,"S2":0.94,"S3":1.41,"S4":2.12,"S5":2.77,"S6":3.35},
{"x":36.30,"S1":0.38,"S2":1.02,"S3":1.33,"S4":2.00,"S5":2.73,"S6":3.30},
{"x":36.35,"S1":0.35,"S2":0.95,"S3":1.41,"S4":2.06,"S5":2.68,"S6":3.36},
{"x":36.40,"S1":0.42,"S2":0.91,"S3":1.36,"S4":2.08,"S5":2.77,"S6":3.39},
{"x":36.45,"S1":0.40,"S2":1.00,"S3":1.32,"S4":1.99,"S5":2.70,"S6":3.26},
{"x":36.50,"S1":0.35,"S2":0.91,"S3":1.36,"S4":2.04,"S5":2.65,"S6":3.33},
{"x":36.55,"S1":0.42,"S2":0.95,"S3":1.38,"S4":2.08,"S5":2.77,"S6":3.36},
{"x":36.60,"S1":0.35,"S2":0.87,"S3":1.26,"S4":2.00,"S5":2.67,"S6":3.25},
{"x":36.65,"S1":0.32,"S2":0.95,"S3":1.32,"S4":1.95,"S5":2.72,"S6":3.32},
{"x":36.70,"S1":0.40,"S2":0.90,"S3":1.34,"S4":2.03,"S5":2.62,"S6":3.36},
{"x":36.75,"S1":0.33,"S2":0.87,"S3":1.24,"S4":2.01,"S5":2.73,"S6":3.27},
{"x":36.80,"S1":0.36,"S2":0.91,"S3":1.29,"S4":1.95,"S5":2.67,"S6":3.23},
{"x":36.85,"S1":0.30,"S2":0.94,"S3":1.32,"S4":2.04,"S5":2.63,"S6":3.34},
{"x":36.90,"S1":0.37,"S2":0.82,"S3":1.24,"S4":1.97,"S5":2.68,"S6":3.30},
{"x":36.95,"S1":0.32,"S2":0.89,"S3":1.20,"S4":1.94,"S5":2.71,"S6":3.25},
{"x":37.00,"S1":0.28,"S2":0.91,"S3":1.28,"S4":2.03,"S5":2.57,"S6":3.34},
{"x":37.05,"S1":0.33,"S2":0.82,"S3":1.26,"S4":1.95,"S5":2.65,"S6":3.27},
{"x":37.10,"S1":0.35,"S2":0.87,"S3":1.20,"S4":1.98,"S5":2.67,"S6":3.22},
{"x":37.15,"S1":0.25,"S2":0.91,"S3":1.29,"S4":1.91,"S5":2.57,"S6":3.34},
{"x":37.20,"S1":0.30,"S2":0.83,"S3":1.22,"S4":1.99,"S5":2.64,"S6":3.25},
{"x":37.25,"S1":0.32,"S2":0.79,"S3":1.19,"S4":1.95,"S5":2.69,"S6":3.30},
{"x":37.30,"S1":0.24,"S2":0.87,"S3":1.28,"S4":1.92,"S5":2.59,"S6":3.20},
{"x":37.35,"S1":0.30,"S2":0.85,"S3":1.20,"S4":1.97,"S5":2.55,"S6":3.31},
{"x":37.40,"S1":0.32,"S2":0.79,"S3":1.24,"S4":1.99,"S5":2.66,"S6":3.25},
{"x":37.45,"S1":0.26,"S2":0.88,"S3":1.17,"S4":1.88,"S5":2.63,"S6":3.21},
{"x":37.50,"S1":0.23,"S2":0.81,"S3":1.26,"S4":1.95,"S5":2.58,"S6":3.27}
]
},
"hconcat": [
{
  "width": 431,
  "height": 383,
  "encoding": {
    "x": {"field": "x", "type": "quantitative", "scale": {"domain": [10, 85], "nice": false, "zero": false},
      "axis": {"title": "2θ (degree)", "values": [10,15,20,25,30,35,40,45,50,55,60,65,70,75,80],
        "labelExpr": "datum.value % 10 === 0 ? datum.label : ''",
        "tickSize": {"condition": {"test": "datum.value % 10 === 0", "value": 6}, "value": 4},
        "labelFontSize": 17, "titleFontSize": 20, "titlePadding": 3}},
    "y": {"field": "y", "type": "quantitative", "scale": {"domain": [0, 3.965], "nice": false, "zero": false},
      "axis": {"title": "Intensity (a.u.)", "domain": false, "values": [0,0.25,0.5,0.75,1,1.25,1.5,1.75,2,2.25,2.5,2.75,3,3.25,3.5],
        "labelExpr": "abs(datum.value*2 - round(datum.value*2)) < 0.001 ? format(datum.value, '.1f') : ''",
        "tickSize": {"condition": {"test": "abs(datum.value*2 - round(datum.value*2)) < 0.001", "value": 6}, "value": 3.5},
        "labelFontSize": 18, "titleFontSize": 21, "titlePadding": 3, "titleY": 205}}
  },
  "layer": [
    {
      "data": {"name": "xrd"},
      "transform": [{"fold": ["S1","S2","S3","S4","S5","S6"], "as": ["series","y"]}],
      "mark": {"type": "line", "strokeWidth": 3, "opacity": 0.3, "strokeJoin": "round"},
      "encoding": {"color": {"field": "series", "type": "nominal", "scale": {"domain": ["S1","S2","S3","S4","S5","S6"], "range": ["#000000","#0000ff","#00ff00","#ff00ff","#000080","#ff0000"]}, "legend": null}}
    },
    {
      "data": {"name": "xrd"},
      "transform": [{"fold": ["S1","S2","S3","S4","S5","S6"], "as": ["series","y"]}],
      "mark": {"type": "line", "strokeWidth": 1, "strokeJoin": "round"},
      "encoding": {"color": {"field": "series", "type": "nominal", "scale": {"domain": ["S1","S2","S3","S4","S5","S6"], "range": ["#000000","#0000ff","#00ff00","#ff00ff","#000080","#ff0000"]}, "legend": null}}
    },
    {
      "data": {"values": [
        {"x":29.6,"y":0,"top":3.56},{"x":35.1,"y":0,"top":3.62},{"x":42.6,"y":0,"top":3.5},
        {"x":56.5,"y":0,"top":3.45},{"x":62.0,"y":0,"top":3.5},{"x":73.2,"y":0,"top":3.43}]},
      "mark": {"type": "rule", "color": "black", "strokeWidth": 1.5, "strokeDash": [6, 4]},
      "encoding": {"y2": {"field": "top"}}
    },
    {
      "data": {"values": [
        {"x":28.1,"y":3.48,"t":"(220)"},{"x":35.6,"y":3.66,"t":"(311)"},{"x":42.9,"y":3.53,"t":"(400)"},
        {"x":56.9,"y":3.46,"t":"(511)"},{"x":62.8,"y":3.53,"t":"(440)"},{"x":73.5,"y":3.45,"t":"(533)"}]},
      "mark": {"type": "text", "angle": 270, "align": "left", "baseline": "middle", "font": "Liberation Serif", "fontWeight": "bold", "fontSize": 17, "color": "black"},
      "encoding": {"text": {"field": "t"}}
    },
    {
      "data": {"values": [
        {"x":80.6,"y":3.12,"t":"S6"},{"x":80.6,"y":2.56,"t":"S5"},{"x":80.6,"y":1.87,"t":"S4"},
        {"x":80.6,"y":1.13,"t":"S3"},{"x":80.6,"y":0.73,"t":"S2"},{"x":80.6,"y":0.17,"t":"S1"}]},
      "mark": {"type": "text", "align": "left", "baseline": "middle", "font": "Liberation Serif", "fontWeight": "bold", "fontSize": 19, "color": "black"},
      "encoding": {"text": {"field": "t"}}
    },
    {
      "data": {"values": [{"x":14.95,"y":3.62,"t":"(a)"}]},
      "mark": {"type": "text", "align": "center", "baseline": "middle", "font": "Liberation Serif", "fontWeight": "bold", "fontSize": 20, "color": "black"},
      "encoding": {"text": {"field": "t"}}
    },
    {
      "data": {"values": [{"x":10,"y":0,"top":3.72}]},
      "mark": {"type": "rule", "color": "black", "strokeWidth": 1.5},
      "encoding": {"y2": {"field": "top"}}
    }
  ]
},
{
  "width": 193,
  "height": 383,
  "encoding": {
    "x": {"field": "x", "type": "quantitative", "scale": {"domain": [30.45, 38.5], "nice": false, "zero": false},
      "axis": {"title": "2θ (degree)", "values": [31,32,33,34,35,36,37,38],
        "labelExpr": "datum.value % 2 === 0 ? datum.label : ''",
        "tickSize": {"condition": {"test": "datum.value % 2 === 0", "value": 6}, "value": 4},
        "labelFontSize": 17, "titleFontSize": 21, "titlePadding": 3, "titleX": 104}},
    "y": {"field": "y", "type": "quantitative", "scale": {"domain": [0.1, 3.6], "nice": false, "zero": false},
      "axis": {"title": null, "offset": -37, "values": [0.2,0.4,0.6,0.8,1.0,1.2,1.4,1.6,1.8,2.0,2.2,2.4,2.6,2.8,3.0,3.2,3.4,3.6],
        "labelExpr": "abs(datum.value/0.4 - round(datum.value/0.4)) < 0.001 ? format(datum.value, '.1f') : ''",
        "tickSize": {"condition": {"test": "abs(datum.value/0.4 - round(datum.value/0.4)) < 0.001", "value": 6}, "value": 3.5},
        "labelFontSize": 18}}
  },
  "layer": [
    {
      "data": {"name": "zoom"},
      "transform": [{"fold": ["S1","S2","S3","S4","S5","S6"], "as": ["series","y"]}],
      "mark": {"type": "line", "strokeWidth": 2.5, "opacity": 0.3, "strokeJoin": "round"},
      "encoding": {"color": {"field": "series", "type": "nominal", "scale": {"domain": ["S1","S2","S3","S4","S5","S6"], "range": ["#000000","#0000ff","#00ff00","#ff00ff","#000080","#ff0000"]}, "legend": null}}
    },
    {
      "data": {"name": "zoom"},
      "transform": [{"fold": ["S1","S2","S3","S4","S5","S6"], "as": ["series","y"]}],
      "mark": {"type": "line", "strokeWidth": 1, "strokeJoin": "round"},
      "encoding": {"color": {"field": "series", "type": "nominal", "scale": {"domain": ["S1","S2","S3","S4","S5","S6"], "range": ["#000000","#0000ff","#00ff00","#ff00ff","#000080","#ff0000"]}, "legend": null}}
    },
    {
      "data": {"values": [{"x":32.87,"y":3.49,"t":"(b)"}]},
      "mark": {"type": "text", "align": "center", "baseline": "middle", "font": "Liberation Serif", "fontWeight": "bold", "fontSize": 20, "color": "black"},
      "encoding": {"text": {"field": "t"}}
    }
  ]
}
]
}
